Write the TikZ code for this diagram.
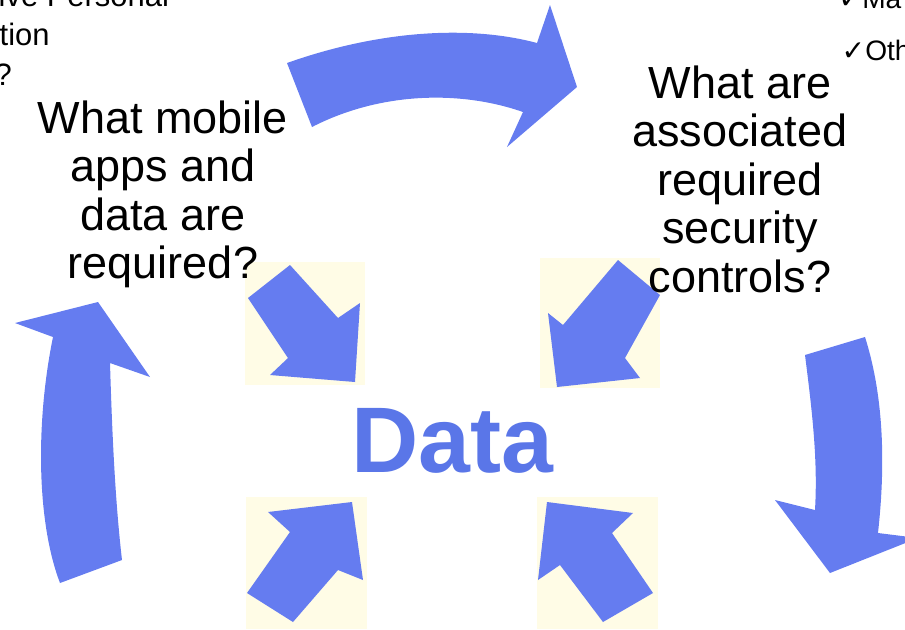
\documentclass[tikz,border=0pt]{standalone}
\usepackage{fontspec}
\setmainfont{Liberation Sans}
\newfontfamily\checkfont{DejaVu Sans}
\definecolor{arrowblue}{RGB}{101,124,240}
\definecolor{datablue}{RGB}{90,118,232}
\definecolor{paleyellow}{RGB}{255,252,230}

\begin{document}
\begin{tikzpicture}[x=0.01cm, y=-0.01cm,
  bigarrow/.style={fill=arrowblue, draw=none},
  backsquare/.style={fill=paleyellow, draw=none},
  question/.style={anchor=north, align=center, inner sep=0pt, font=\fontsize{12.8}{13.8}\selectfont},
  cutline/.style={anchor=base west, inner sep=0pt, font=\fontsize{8.8}{10}\selectfont},
  tickline/.style={anchor=base west, inner sep=0pt, font=\fontsize{8}{9}\selectfont}]
\useasboundingbox (0,0) rectangle (905,629);
%the pale squares
\fill [backsquare] (245,262) rectangle (365,385);
\fill [backsquare] (540,258) rectangle (660,388);
\fill [backsquare] (246,497) rectangle (367,629);
\fill [backsquare] (537,497) rectangle (658,629);
%the arrows to the middle
\fill [bigarrow] (290,265) -- (338,318) -- (360,303) -- (355,382) -- (270,375) -- (288,358) -- (248,298) -- cycle;
\fill [bigarrow] (618,260) -- (660,295) -- (625,358) -- (640,378) -- (557,387) -- (548,313) -- (563,325) -- cycle;
\fill [bigarrow] (293,622) -- (338,570) -- (363,580) -- (352,502) -- (268,512) -- (290,532) -- (247,593) -- cycle;
\fill [bigarrow] (603,622) -- (653,593) -- (612,533) -- (633,513) -- (547,502) -- (538,580) -- (560,565) -- cycle;
%the round arrows
\fill [bigarrow] (287,63) .. controls (380,30) and (470,25) .. (537,43) -- (550,5) -- (577,87)
  -- (507,147) -- (523,112) .. controls (460,90) and (380,92) .. (312,127) -- cycle;
\fill [bigarrow] (805,355) .. controls (812,410) and (818,460) .. (815,510) -- (775,500) -- (830,573)
  -- (918,538) -- (878,533) .. controls (885,470) and (885,400) .. (865,337) -- cycle;
\fill [bigarrow] (60,583) .. controls (36,520) and (36,420) .. (53,337) -- (15,323) -- (98,302)
  -- (150,377) -- (110,363) .. controls (112,430) and (115,500) .. (122,560) -- cycle;
%the questions
\node [question] (apps) at (163,100) {What mobile\\apps and\\data are\\required?};
\node [question] (controls) at (740,65) {What are\\associated\\required\\security\\controls?};
%the middle
\node [anchor=base, inner sep=0pt, text=datablue, font=\fontsize{26.5}{30}\selectfont\bfseries] (data) at (452,472) {Data};
%the cut texts
\node [cutline] (personal) at (-2,6) {ive Personal};
\node [cutline] (tion) at (-1,45) {tion};
\node [cutline] (mark) at (-6,85) {?};
\node [tickline] (ma) at (838,8) {{\checkfont ✓}Ma};
\node [tickline] (oth) at (841,60) {{\checkfont ✓}Oth};
\end{tikzpicture}
\end{document}
